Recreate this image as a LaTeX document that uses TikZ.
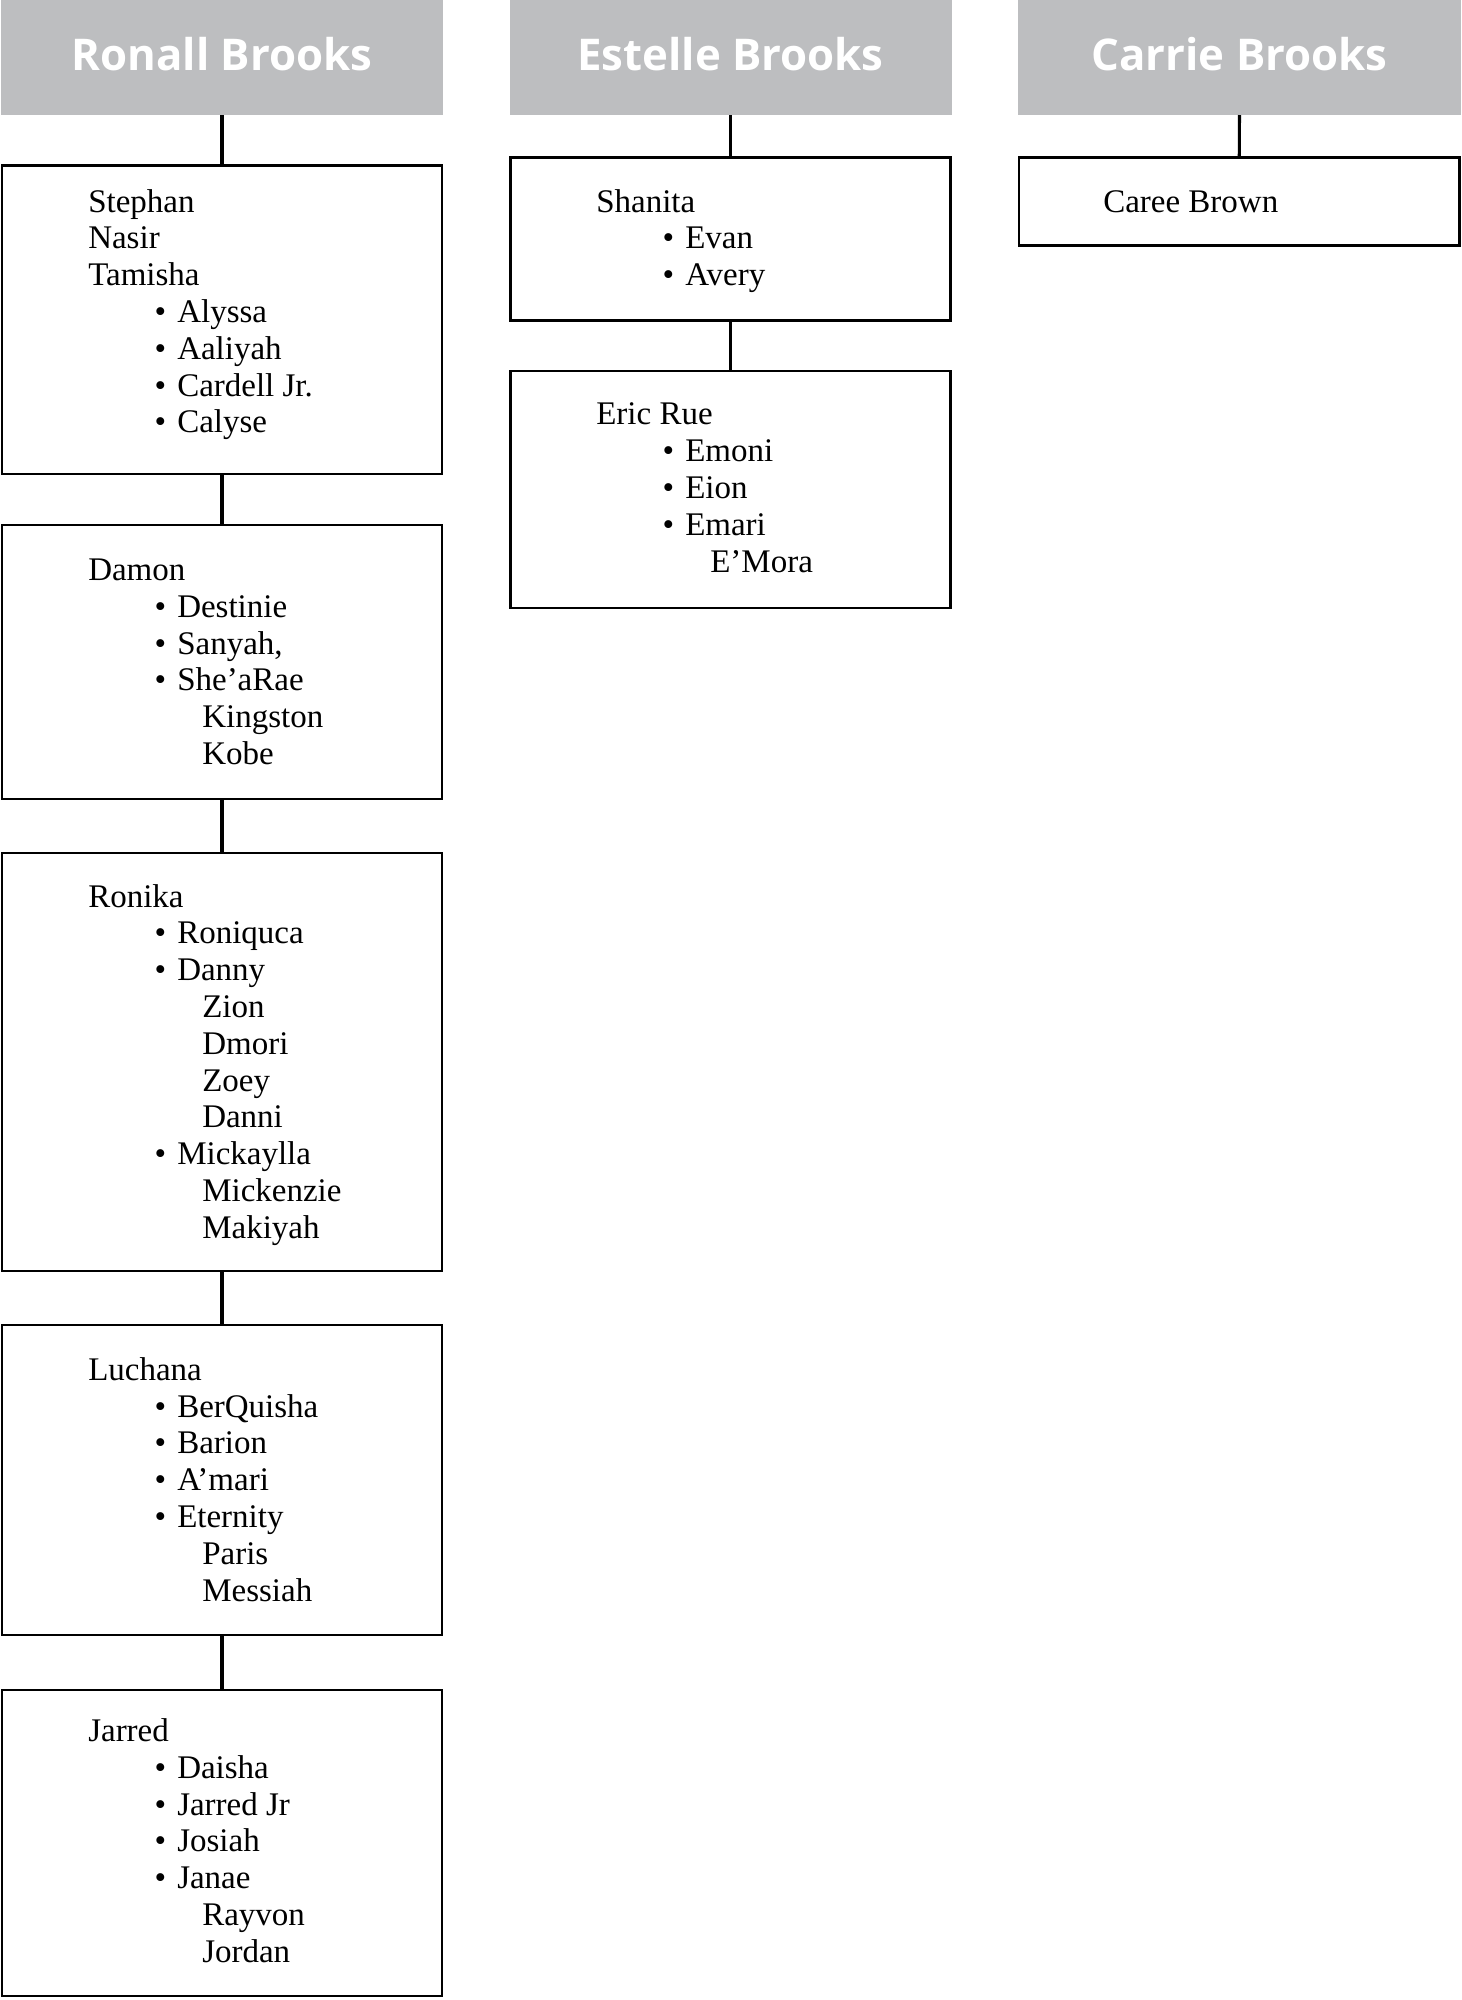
\documentclass[tikz,border=0pt]{standalone}
\usepackage{fontspec}
\setmainfont{Liberation Serif}
\newfontfamily\hfont{Open Sans}
\usetikzlibrary{fit}
\definecolor{hdrgray}{RGB}{189,190,192}
\newcommand\famlines[4]{%
  \foreach \lv/\tx [count=\i] in {#4} {
    \node[ln\lv] (#1-\i) at (#2,{#3+(\i-1)*36.8}) {\tx};
  }}
\begin{document}
\begin{tikzpicture}[x=0.75pt,y=-0.75pt,
  hdr/.style={fill=hdrgray, draw=none, inner sep=0pt, outer sep=0pt},
  bx/.style={draw=black, line width=1.6pt, inner sep=0pt, outer sep=0pt},
  htxt/.style={anchor=base, text=white, font=\hfont\bfseries\fontsize{32.8pt}{40pt}\selectfont, inner sep=0pt},
  lnb/.style={anchor=base west, inner sep=0pt, font=\fontsize{24.75pt}{29pt}\selectfont},
  ln0/.style={lnb},
  ln1/.style={lnb, xshift=66.75pt, execute at begin node={\llap{•\hspace{8.4pt}}}},
  ln2/.style={lnb, xshift=85.5pt},
  cn/.style={line width=2.3pt, black}]
\useasboundingbox (0,0) rectangle (1462,2000);
% headers
\node[hdr, fit={(1,0)(443,115)}] (h1) {};
\node[hdr, fit={(509.5,0)(951.5,115)}] (h2) {};
\node[hdr, fit={(1018,0)(1461,115)}] (h3) {};
\node[htxt] (t1) at (222,70.7) {Ronall Brooks};
\node[htxt] (t2) at (730.5,70.7) {Estelle Brooks};
\node[htxt] (t3) at (1239.5,70.7) {Carrie Brooks};
% boxes
\node[bx, fit={(2,165.5)(442,474)}] (r1) {};
\node[bx, fit={(2,525)(442,799)}] (r2) {};
\node[bx, fit={(2,853)(442,1271)}] (r3) {};
\node[bx, fit={(2,1325)(442,1635)}] (r4) {};
\node[bx, fit={(2,1690)(442,1996)}] (r5) {};
\node[bx, fit={(510.5,157.5)(950.5,320.5)}] (e1) {};
\node[bx, fit={(510.5,371)(950.5,608)}] (e2) {};
\node[bx, fit={(1019,157.5)(1459.5,245.5)}] (c1) {};
% connectors
\draw[cn] (h1.south) -- (r1.north);
\draw[cn] (r1.south) -- (r2.north);
\draw[cn] (r2.south) -- (r3.north);
\draw[cn] (r3.south) -- (r4.north);
\draw[cn] (r4.south) -- (r5.north);
\draw[cn] (h2.south) -- (e1.north);
\draw[cn] (e1.south) -- (e2.north);
\draw[cn] (h3.south) -- (c1.north);
% texts
\famlines{a}{88}{212}{0/Stephan,0/Nasir,0/Tamisha,1/Alyssa,1/Aaliyah,1/Cardell Jr.,1/Calyse}
\famlines{b}{88}{580.4}{0/Damon,1/Destinie,1/{Sanyah,},1/She’aRae,2/Kingston,2/Kobe}
\famlines{c}{88}{907}{0/Ronika,1/Roniquca,1/Danny,2/Zion,2/Dmori,2/Zoey,2/Danni,1/Mickaylla,2/Mickenzie,2/Makiyah}
\famlines{d}{88}{1380.3}{0/Luchana,1/BerQuisha,1/Barion,1/A’mari,1/Eternity,2/Paris,2/Messiah}
\famlines{e}{88}{1741.5}{0/Jarred,1/Daisha,1/Jarred Jr,1/Josiah,1/Janae,2/Rayvon,2/Jordan}
\famlines{f}{596}{212}{0/Shanita,1/Evan,1/Avery}
\famlines{g}{596}{424.8}{0/Eric Rue,1/Emoni,1/Eion,1/Emari,2/E’Mora}
\famlines{k}{1103}{212}{0/Caree Brown}
\end{tikzpicture}
\end{document}
